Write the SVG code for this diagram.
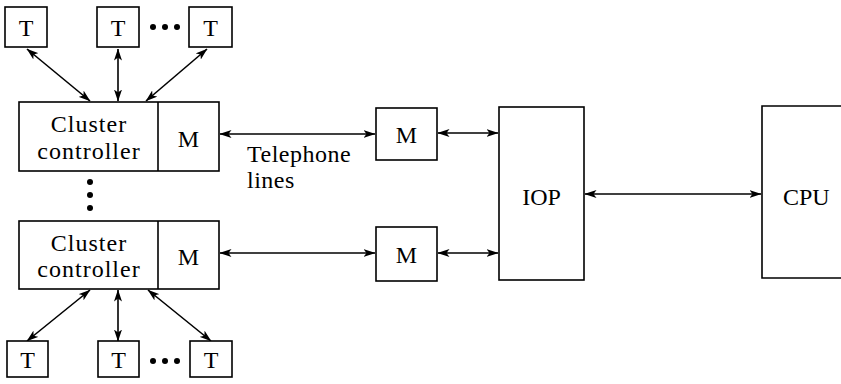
<svg xmlns="http://www.w3.org/2000/svg" width="841" height="384" viewBox="0 0 841 384">
<style>
.box{fill:#fff;stroke:#000;stroke-width:1.6}
.t{font-family:"Liberation Serif","Times New Roman",serif;font-size:24px;fill:#000}
.c{text-anchor:middle}
.ln{stroke:#000;stroke-width:1.6;fill:none;marker-start:url(#a);marker-end:url(#a)}
.dot{fill:#000}
</style>
<defs>
<marker id="a" viewBox="0 0 12 8" refX="11.5" refY="4" markerWidth="12" markerHeight="8" markerUnits="userSpaceOnUse" orient="auto-start-reverse">
<path d="M0,0 L12,4 L0,8 L3,4 Z" fill="#000"/>
</marker>
</defs>
<rect width="841" height="384" fill="#fff"/>
<g id="connectors">
<line class="ln" x1="27" y1="49" x2="90" y2="101"/>
<line class="ln" x1="118" y1="49" x2="118" y2="101"/>
<line class="ln" x1="207" y1="49" x2="146" y2="101"/>
<line class="ln" x1="90" y1="290" x2="27" y2="341"/>
<line class="ln" x1="118" y1="290" x2="118" y2="341"/>
<line class="ln" x1="148" y1="290" x2="211" y2="341"/>
<line class="ln" x1="220" y1="134" x2="375" y2="134"/>
<line class="ln" x1="220" y1="253" x2="375" y2="253"/>
<line class="ln" x1="438" y1="133" x2="498" y2="133"/>
<line class="ln" x1="438" y1="253" x2="498" y2="253"/>
<line class="ln" x1="585" y1="194" x2="761" y2="194"/>
</g>
<g id="t1"><rect class="box" x="5" y="7" width="42" height="40"/><text class="t c" x="26" y="36">T</text></g>
<g id="t2"><rect class="box" x="97" y="7" width="42" height="40"/><text class="t c" x="118" y="36">T</text></g>
<g id="t3"><rect class="box" x="189" y="7" width="43" height="40"/><text class="t c" x="210.5" y="36">T</text></g>
<g id="dots-top"><circle class="dot" cx="153" cy="27" r="3"/><circle class="dot" cx="165" cy="27" r="3"/><circle class="dot" cx="177" cy="27" r="3"/></g>
<g id="cluster1">
<rect class="box" x="19" y="102" width="200" height="69"/>
<line x1="158" y1="102" x2="158" y2="171" stroke="#000" stroke-width="1.6"/>
<text class="t c" x="89" y="132" letter-spacing="1">Cluster</text>
<text class="t c" x="89" y="159" letter-spacing="1">controller</text>
<text class="t c" x="188.5" y="147">M</text>
</g>
<g id="dots-vert"><circle class="dot" cx="90" cy="182" r="3"/><circle class="dot" cx="90" cy="195" r="3"/><circle class="dot" cx="90" cy="208" r="3"/></g>
<g id="cluster2">
<rect class="box" x="19" y="221" width="200" height="68"/>
<line x1="158" y1="221" x2="158" y2="289" stroke="#000" stroke-width="1.6"/>
<text class="t c" x="89" y="251" letter-spacing="1">Cluster</text>
<text class="t c" x="89" y="277" letter-spacing="1">controller</text>
<text class="t c" x="188.5" y="265">M</text>
</g>
<g id="t4"><rect class="box" x="7" y="341" width="41" height="36"/><text class="t c" x="27.5" y="368">T</text></g>
<g id="t5"><rect class="box" x="98" y="341" width="41" height="36"/><text class="t c" x="118.5" y="368">T</text></g>
<g id="t6"><rect class="box" x="190" y="341" width="42" height="36"/><text class="t c" x="211" y="368">T</text></g>
<g id="dots-bottom"><circle class="dot" cx="153" cy="361" r="3"/><circle class="dot" cx="165" cy="361" r="3"/><circle class="dot" cx="177" cy="361" r="3"/></g>
<g id="label-telephone"><text class="t" x="247" y="162" letter-spacing="0.5">Telephone</text><text class="t" x="247" y="188" letter-spacing="0.5">lines</text></g>
<g id="modem1"><rect class="box" x="376" y="108" width="61" height="52"/><text class="t c" x="406.5" y="143">M</text></g>
<g id="modem2"><rect class="box" x="376" y="227" width="61" height="54"/><text class="t c" x="406.5" y="263">M</text></g>
<g id="iop"><rect class="box" x="499" y="107" width="85" height="173"/><text class="t c" x="541.5" y="205">IOP</text></g>
<g id="cpu"><path class="box" d="M850,106 H762 V278 H850"/><text class="t" x="783" y="205">CPU</text></g>
</svg>
